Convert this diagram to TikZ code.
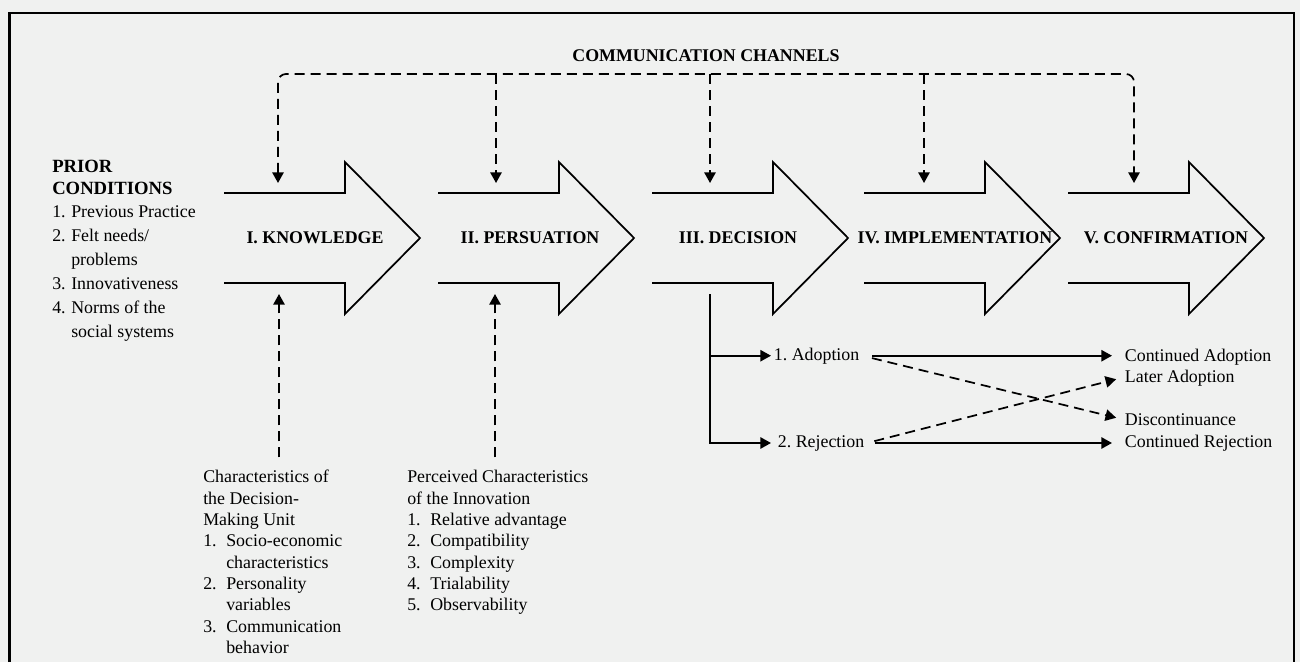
\documentclass[tikz,border=0pt]{standalone}
\usepackage{fontspec}
\setmainfont{Liberation Serif}
\usepackage{tikz}
\usetikzlibrary{arrows.meta, positioning}
\definecolor{paper}{RGB}{240,241,240}
\newcommand{\numbox}[2]{\makebox[#1][l]{#2}}
\tikzset{
    x=0.75pt, y=-0.75pt, % one unit is one pixel of the layout, y grows downwards
    >={Triangle[length=8pt, width=8.5pt]}, % filled triangle heads
    solidline/.style={line width=1.3pt},
    dashline/.style={line width=1.3pt, dash pattern=on 7.5pt off 4.5pt},
    stagearrow/.style={line width=1.3pt, line join=miter},
    stagelabel/.style={font=\bfseries\fontsize{13.4}{16}\selectfont}, % the five stages
    textblock/.style={align=left, inner sep=0pt, anchor=north west, font=\fontsize{13.4}{16}\selectfont},
    outcome/.style={inner xsep=2pt, inner ysep=0pt, anchor=base west, font=\fontsize{13.4}{16}\selectfont},
}

\begin{document}
\begin{tikzpicture}
\fill[paper] (0,0) rectangle (1300,662);
\useasboundingbox (0,0) rectangle (1300,662);
\draw[line width=1.6pt] (9.5,662) -- (9.5,12.7) -- (1294,12.7) -- (1294,662);

% block arrows of the stages
\foreach \s in {224,438,652,864,1068}
    \draw[stagearrow] (\s,193) -- (\s+121,193) -- (\s+121,162) -- (\s+196,238)
        -- (\s+121,314) -- (\s+121,283) -- (\s,283);

\node[stagelabel] (know) at (315,238) {I. KNOWLEDGE};
\node[stagelabel] (pers) at (530,238) {II. PERSUATION};
\node[stagelabel] (deci) at (738,238) {III. DECISION};
\node[stagelabel] (impl) at (955,238) {IV. IMPLEMENTATION};
\node[stagelabel] (conf) at (1166,238) {V. CONFIRMATION};

% communication channels
\node[stagelabel] (chan) at (706,56) {COMMUNICATION CHANNELS};
\coordinate (bus) at (706,74);
\coordinate (k-in) at (278,183);
\coordinate (p-in) at (496,183);
\coordinate (d-in) at (710,183);
\coordinate (i-in) at (924,183);
\coordinate (c-in) at (1134,183);
\draw[dashline, <->, rounded corners=6pt] (k-in) -- (k-in |- bus) -| (c-in);
\foreach \t in {p-in, d-in, i-in}
    \draw[dashline, ->] (\t |- bus) -- (\t);

% prior conditions
\node[textblock, font=\bfseries\fontsize{14}{16.5}\selectfont] (prior) at (52,160) {PRIOR\\CONDITIONS};
\node[textblock, font=\fontsize{13.4}{18}\selectfont, below=8pt of prior.south west, anchor=north west] (priorlist)
    {\numbox{14.25pt}{1.}Previous Practice\\
     \numbox{14.25pt}{2.}Felt needs/\\
     \hspace*{14.25pt}problems\\
     \numbox{14.25pt}{3.}Innovativeness\\
     \numbox{14.25pt}{4.}Norms of the\\
     \hspace*{14.25pt}social systems};

% characteristics below knowledge and persuasion
\node[textblock] (dmu) at (203,470)
    {Characteristics of\\the Decision-\\Making Unit\\
     \numbox{17.25pt}{1.}Socio-economic\\
     \hspace*{17.25pt}characteristics\\
     \numbox{17.25pt}{2.}Personality\\
     \hspace*{17.25pt}variables\\
     \numbox{17.25pt}{3.}Communication\\
     \hspace*{17.25pt}behavior};
\node[textblock] (pci) at (407,470)
    {Perceived Characteristics\\of the Innovation\\
     \numbox{17.25pt}{1.}Relative advantage\\
     \numbox{17.25pt}{2.}Compatibility\\
     \numbox{17.25pt}{3.}Complexity\\
     \numbox{17.25pt}{4.}Trialability\\
     \numbox{17.25pt}{5.}Observability};
\coordinate (k-out) at (279,294);
\coordinate (p-out) at (495,294);
\draw[dashline, ->, shorten <=9.5pt] (dmu.north -| k-out) -- (k-out);
\draw[dashline, ->, shorten <=9.5pt] (pci.north -| p-out) -- (p-out);

% decision branches
\node[outcome] (adopt) at (771,360) {1.\ Adoption};
\node[outcome] (reject) at (775,447) {2.\ Rejection};
\coordinate (d-stem) at (710,294);
\draw[solidline, ->, shorten >=3pt] (d-stem) |- (reject.west);
\draw[solidline, ->] (d-stem |- adopt.west) -- (adopt.west);

\node[outcome] (contadopt) at (1122,361) {Continued Adoption};
\node[outcome] (later) at (1122,382) {Later Adoption};
\node[outcome] (discont) at (1122,425) {Discontinuance};
\node[outcome] (contrej) at (1122,447) {Continued Rejection};

\draw[solidline, ->, shorten <=7.5pt, shorten >=7.5pt] (adopt.east) -- (adopt.east -| contadopt.west);
\draw[dashline, ->, shorten <=7.5pt, shorten >=4.5pt] (adopt.east) -- (discont.west);
\draw[solidline, ->, shorten <=5.5pt, shorten >=7.5pt] (reject.east) -- (reject.east -| contrej.west);
\draw[dashline, ->, shorten <=5.5pt, shorten >=4.5pt] (reject.east) -- (later.west);
\end{tikzpicture}
\end{document}
